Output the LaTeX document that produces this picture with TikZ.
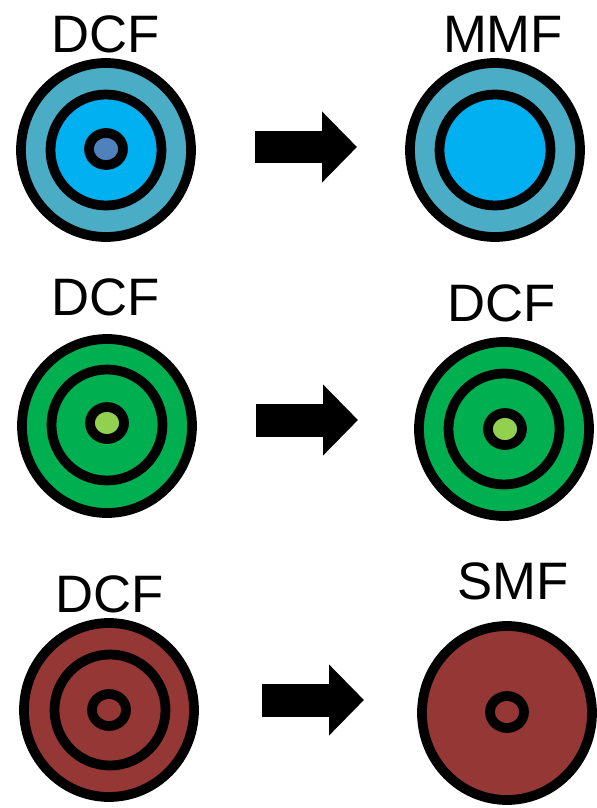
\documentclass[tikz,border=0pt]{standalone}
\usepackage{xcolor}
\usepackage{fontspec}
\setmainfont{Liberation Sans}
\usetikzlibrary{arrows.meta}
\definecolor{cladblue}{HTML}{4BACC6}
\definecolor{innerblue}{HTML}{00B0F0}
\definecolor{coreblue}{HTML}{4F81BD}
\definecolor{cladgreen}{HTML}{00B050}
\definecolor{coregreen}{HTML}{92D050}
\definecolor{cladred}{HTML}{953735}
\tikzset{
  ring/.style={draw=black, line width=0.195cm},
  fibrelabel/.style={anchor=base, inner sep=0pt, font=\fontsize{30}{36}\selectfont},
  blockarrow/.style={draw=black, line width=0.66cm, -{Triangle[length=0.70cm,width=1.38cm]}}
}
\begin{document}
\begin{tikzpicture}[x=0.02cm,y=-0.02cm]
\useasboundingbox (0,0) rectangle (597,808);

\draw [ring, fill=cladblue] (106,150) ellipse (85 and 87);
\draw [ring, fill=innerblue] (106,150) ellipse (55.5 and 55.5);
\draw [ring, fill=coreblue] (106,149) ellipse (17 and 16);
\node [fibrelabel] (labelA) at (106,52) {DCF};

\draw [ring, fill=cladblue] (495,150) ellipse (85 and 87);
\draw [ring, fill=innerblue] (495,150) ellipse (55.5 and 55.5);
\node [fibrelabel] (labelB) at (503,52) {MMF};

\draw [ring, fill=cladgreen] (107,426) ellipse (85 and 87);
\draw [ring, fill=cladgreen] (107,425) ellipse (55.5 and 55.5);
\draw [ring, fill=coregreen] (107,423) ellipse (17 and 16);
\node [fibrelabel] (labelC) at (106,315) {DCF};

\draw [ring, fill=cladgreen] (504,429) ellipse (85 and 87);
\draw [ring, fill=cladgreen] (504,429) ellipse (55.5 and 55.5);
\draw [ring, fill=coregreen] (505,429) ellipse (17 and 16);
\node [fibrelabel] (labelD) at (502,321) {DCF};

\draw [ring, fill=cladred] (109,710) ellipse (85 and 87);
\draw [ring, fill=cladred] (110,710) ellipse (55.5 and 55.5);
\draw [ring, fill=cladred] (109,710) ellipse (17 and 16);
\node [fibrelabel] (labelE) at (110,612) {DCF};

\draw [ring, fill=cladred] (507,713) ellipse (85 and 87);
\draw [ring, fill=cladred] (507,712) ellipse (17 and 16);
\node [fibrelabel] (labelF) at (513,599) {SMF};

\coordinate (tailA) at (255,147);
\coordinate (tipA) at (357,147);
\coordinate (tailB) at (256,420);
\coordinate (tipB) at (358,420);
\coordinate (tailC) at (262,700);
\coordinate (tipC) at (364,700);
\draw [blockarrow] (tailA) -- (tipA);
\draw [blockarrow] (tailB) -- (tipB);
\draw [blockarrow] (tailC) -- (tipC);
\end{tikzpicture}
\end{document}
